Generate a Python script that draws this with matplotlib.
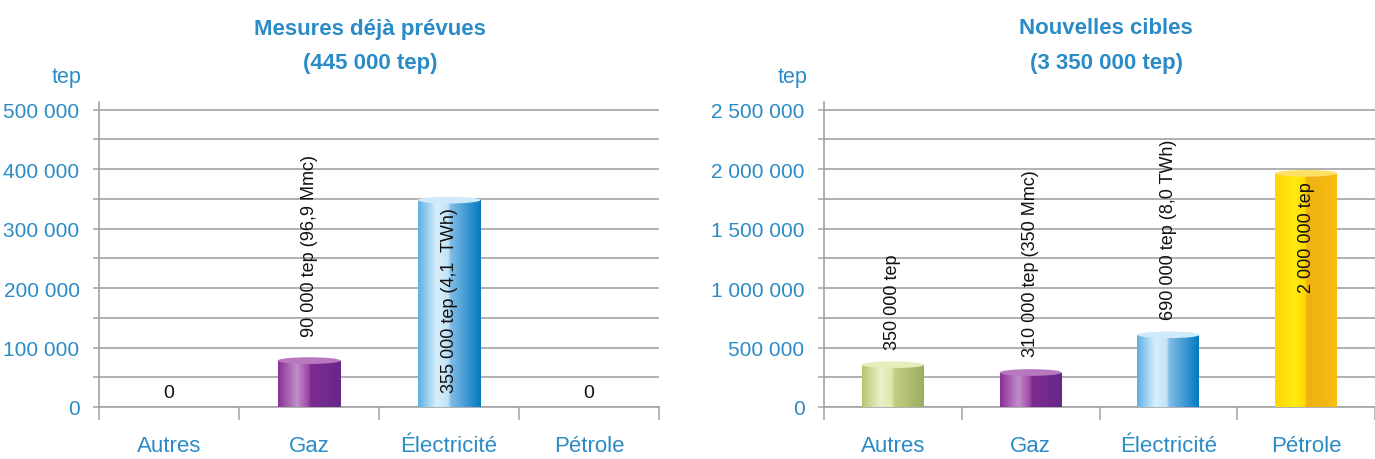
import matplotlib
matplotlib.use("Agg")
import matplotlib.pyplot as plt
from matplotlib import font_manager
from matplotlib.colors import LinearSegmentedColormap
from matplotlib.patches import Rectangle, Ellipse
from matplotlib.ticker import MultipleLocator, FuncFormatter
import numpy as np

categories = ["Autres", "Gaz", "Électricité", "Pétrole"]

# left panel: measures already planned
left_title = ["Mesures déjà prévues", "(445 000 tep)"]
left_values = [0, 78000, 348000, 0]
left_labels = ["0", "90 000 tep (96,9 Mmc)", "355 000 tep (4,1  TWh)", "0"]

# right panel: new targets
right_title = ["Nouvelles cibles", "(3 350 000 tep)"]
right_values = [355000, 290000, 607000, 1965000]
right_labels = ["350 000 tep", "310 000 tep (350 Mmc)", "690 000 tep (8,0 TWh)", "2 000 000 tep"]

BLUE = "#2a8bc6"
GRID = "#a3a3a3"

names = {f.name for f in font_manager.fontManager.ttflist}
NARROW = [f for f in ["Liberation Sans Narrow", "DejaVu Sans Condensed"] if f in names] + ["Liberation Sans", "DejaVu Sans"]
plt.rcParams["font.family"] = NARROW

# gradient stops per category (left -> right across the cylinder)
cyl = {
    "Autres": (["#b6c66e", "#e9f1c9", "#dde8b0", "#c3cf82", "#9aae62"], "#e4eeb8"),
    "Gaz": (["#8a3296", "#c08fc8", "#a048a6", "#7c2c90", "#66288a"], "#b878c0"),
    "Électricité": (["#5eb0e4", "#d8effb", "#c2e3f7", "#80bce6", "#0479c2"], "#cfeafa"),
    "Pétrole": (["#ffd400", "#ffec10", "#ffda00", "#eeb014", "#f6bd12"], "#ffe066"),
}
stops = [0.0, 0.3, 0.48, 0.52, 1.0]


def cylinder(ax, x, h, w, cat, cap_h):
    if h <= 0:
        return
    cols, cap = cyl[cat]
    cmap = LinearSegmentedColormap.from_list(cat, list(zip(stops, cols)))
    grad = np.linspace(0, 1, 200).reshape(1, -1)
    rect = Rectangle((x - w / 2, 0), w, h, facecolor="none", edgecolor="none")
    ax.add_patch(rect)
    im = ax.imshow(grad, cmap=cmap, extent=[x - w / 2, x + w / 2, 0, h],
                   aspect="auto", zorder=3, interpolation="bilinear")
    im.set_clip_path(rect)
    ax.add_patch(Ellipse((x, h), w, cap_h, facecolor=cap, edgecolor="none", zorder=4))


def panel(rect, values, labels, ymax, major, label_y, title, title_x, tep_x, xmax):
    ax = fig.add_axes(rect)
    x = np.arange(len(categories))
    for xi, v, c in zip(x, values, categories):
        cylinder(ax, xi, v, 0.45, c, ymax * 0.022)
    for xi, lab, ly in zip(x, labels, label_y):
        if lab == "0":
            ax.text(xi, ly, lab, ha="center", va="center", fontsize=14, color="#111111", zorder=5)
        else:
            ax.text(xi, ly, lab, ha="center", va="bottom", rotation=90, fontsize=13,
                    color="#111111", zorder=5)
    ax.set_xlim(-0.5, xmax)
    ax.set_ylim(0, ymax)
    ax.yaxis.set_major_locator(MultipleLocator(major))
    ax.yaxis.set_minor_locator(MultipleLocator(major / 2))
    ax.yaxis.set_major_formatter(FuncFormatter(lambda v, p: f"{int(v):,}".replace(",", " ")))
    ax.grid(True, which="both", axis="y", color=GRID, linewidth=1.2, zorder=0)
    ax.set_axisbelow(True)
    ax.tick_params(axis="y", which="both", length=4, width=1.1, color=GRID,
                   labelsize=15, labelcolor=BLUE, pad=10)
    ax.set_xticks(np.arange(-0.5, 4.0, 1.0))
    ax.set_xticklabels([])
    ax.set_xticks(x, categories, minor=True)
    ax.tick_params(axis="x", which="major", length=9, width=1.1, color=GRID, direction="out")
    ax.tick_params(axis="x", which="minor", length=0, labelsize=16, labelcolor=BLUE, pad=20)
    for s in ["top", "right"]:
        ax.spines[s].set_visible(False)
    for s in ["left", "bottom"]:
        ax.spines[s].set_color(GRID)
        ax.spines[s].set_linewidth(1.2)
    fig.text(title_x, 1 - 29 / 460, title[0], ha="center", va="center", fontsize=16,
             fontweight="bold", color=BLUE)
    fig.text(title_x, 1 - 63 / 460, title[1], ha="center", va="center", fontsize=16,
             fontweight="bold", color=BLUE)
    fig.text(tep_x, 1 - 77 / 460, "tep", ha="right", va="center", fontsize=15.5, color=BLUE)
    return ax


fig = plt.figure(figsize=(13.75, 4.6), dpi=100)

panel([99 / 1375, 52 / 460, 560 / 1375, 305 / 460], left_values, left_labels, 513000, 100000,
      [25000, 120000, 25000, 25000], left_title, 370 / 1375, 82 / 1375, 3.5)
panel([824 / 1375, 52 / 460, 551 / 1375, 305 / 460], right_values, right_labels, 2565000, 500000,
      [489000, 430000, 742000, 970000], right_title, 1106 / 1375, 808 / 1375, -0.5 + 551 / 140)

fig.savefig("out.png", dpi=100)
